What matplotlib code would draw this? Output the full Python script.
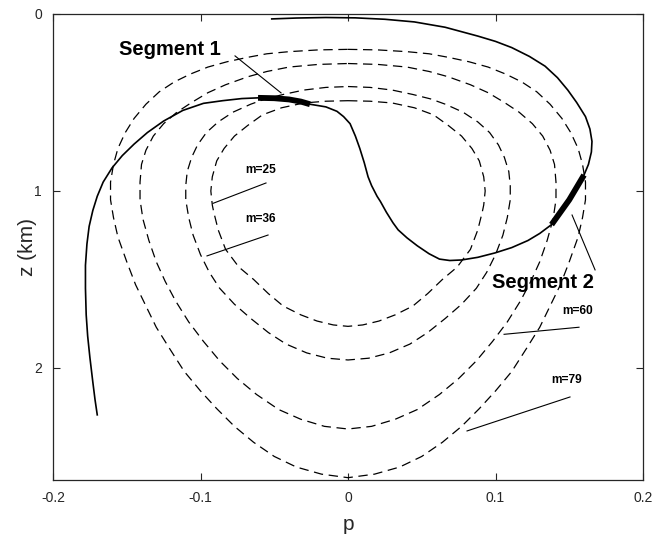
import matplotlib
matplotlib.use("Agg")
import matplotlib.pyplot as plt

plt.rcParams['font.family'] = ['Liberation Sans', 'DejaVu Sans']
plt.rcParams['axes.unicode_minus'] = False

# dashed contours, right half (p >= 0) read from top to bottom, mirrored for left half
c25_p = [0, 0.015, 0.03, 0.045, 0.058, 0.068, 0.077, 0.084, 0.089, 0.092, 0.093, 0.092, 0.091, 0.088,
         0.083, 0.074, 0.064, 0.054, 0.044, 0.032, 0.021, 0.01, 0]
c25_z = [0.49, 0.493, 0.503, 0.53, 0.57, 0.63, 0.69, 0.76, 0.83, 0.92, 1.0, 1.08, 1.12, 1.22,
         1.33, 1.43, 1.50, 1.58, 1.65, 1.70, 1.735, 1.757, 1.765]

c36_p = [0, 0.015, 0.03, 0.044, 0.056, 0.066, 0.078, 0.088, 0.096, 0.102, 0.106, 0.109, 0.110, 0.110,
         0.108, 0.105, 0.100, 0.094, 0.087, 0.077, 0.066, 0.054, 0.042, 0.028, 0.014, 0]
c36_z = [0.41, 0.415, 0.43, 0.455, 0.48, 0.51, 0.555, 0.61, 0.67, 0.74, 0.81, 0.89, 0.97, 1.05,
         1.15, 1.25, 1.36, 1.46, 1.55, 1.64, 1.72, 1.80, 1.865, 1.915, 1.945, 1.955]

c60_p = [0, 0.02, 0.04, 0.055, 0.068, 0.083, 0.095, 0.106, 0.116, 0.125, 0.132, 0.137, 0.140, 0.141,
         0.141, 0.139, 0.135, 0.130, 0.124, 0.117, 0.108, 0.098, 0.087, 0.075, 0.062, 0.047, 0.032,
         0.016, 0]
c60_z = [0.28, 0.285, 0.30, 0.325, 0.355, 0.40, 0.445, 0.50, 0.555, 0.62, 0.69, 0.77, 0.85, 0.95,
         1.05, 1.16, 1.28, 1.40, 1.51, 1.62, 1.74, 1.85, 1.96, 2.06, 2.15, 2.235, 2.29,
         2.33, 2.345]

c79_p = [0, 0.02, 0.04, 0.055, 0.068, 0.082, 0.095, 0.107, 0.118, 0.128, 0.137, 0.145, 0.151, 0.156,
         0.159, 0.161, 0.161, 0.159, 0.156, 0.150, 0.144, 0.137, 0.130, 0.121, 0.111, 0.100, 0.089,
         0.077, 0.064, 0.050, 0.035, 0.018, 0]
c79_z = [0.20, 0.203, 0.213, 0.225, 0.245, 0.27, 0.30, 0.34, 0.385, 0.44, 0.51, 0.59, 0.67, 0.76,
         0.85, 0.95, 1.05, 1.15, 1.26, 1.40, 1.53, 1.65, 1.77, 1.89, 2.02, 2.13, 2.23,
         2.33, 2.42, 2.50, 2.56, 2.60, 2.62]

# solid trajectory
traj_p = [-0.0517, -0.035, -0.015, 0.005, 0.025, 0.045, 0.0658, 0.088, 0.100, 0.111, 0.123, 0.1336,
          0.142, 0.149, 0.155, 0.161, 0.164, 0.1654, 0.165, 0.163, 0.160, 0.155, 0.150, 0.144, 0.138,
          0.130, 0.122, 0.111, 0.0997, 0.088, 0.077, 0.069, 0.062, 0.055, 0.047, 0.040, 0.034, 0.0305,
          0.026, 0.022, 0.0197, 0.016, 0.0136, 0.011, 0.008, 0.005, 0.0014, -0.003, -0.0075, -0.015,
          -0.0258, -0.032, -0.040, -0.050, -0.061, -0.072, -0.085, -0.098, -0.112, -0.125, -0.136,
          -0.145, -0.153, -0.160, -0.166, -0.170, -0.173, -0.1755, -0.177, -0.178, -0.178, -0.1775,
          -0.1765, -0.175, -0.173, -0.1715, -0.170]
traj_z = [0.028, 0.023, 0.020, 0.022, 0.030, 0.045, 0.075, 0.125, 0.155, 0.19, 0.24, 0.295,
          0.36, 0.43, 0.50, 0.58, 0.65, 0.72, 0.78, 0.85, 0.91, 0.98, 1.05, 1.12, 1.19,
          1.24, 1.28, 1.32, 1.35, 1.375, 1.39, 1.393, 1.385, 1.355, 1.31, 1.265, 1.22, 1.18,
          1.12, 1.06, 1.03, 0.97, 0.92, 0.84, 0.76, 0.69, 0.62, 0.58, 0.55, 0.525,
          0.51, 0.495, 0.483, 0.476, 0.474, 0.478, 0.49, 0.505, 0.545, 0.605, 0.67,
          0.735, 0.80, 0.87, 0.95, 1.03, 1.11, 1.2, 1.3, 1.42, 1.55, 1.70,
          1.82, 1.94, 2.08, 2.18, 2.265]

seg1_p = [-0.061, -0.050, -0.040, -0.032, -0.0258]
seg1_z = [0.474, 0.476, 0.483, 0.495, 0.51]
seg2_p = [0.160, 0.155, 0.150, 0.144, 0.138]
seg2_z = [0.91, 0.98, 1.05, 1.12, 1.19]

# labels: text, text position, leader line start, leader line end
contour_labels = ['m=25', 'm=36', 'm=60', 'm=79']
label_xy = [(-0.0698, 0.88), (-0.0698, 1.16), (0.145, 1.68), (0.138, 2.07)]
leader_a = [(-0.0915, 1.07), (-0.0956, 1.367), (0.1058, 1.81), (0.0807, 2.356)]
leader_b = [(-0.0556, 0.955), (-0.0542, 1.249), (0.1566, 1.77), (0.1505, 2.164)]

fig = plt.figure(figsize=(6.56, 5.39), dpi=100)
ax = fig.add_axes([0.0808, 0.1095, 0.8994, 0.8646])

for cp, cz in [(c25_p, c25_z), (c36_p, c36_z), (c60_p, c60_z), (c79_p, c79_z)]:
    xs = list(cp) + [-v for v in cp[::-1]]
    ys = list(cz) + list(cz[::-1])
    ax.plot(xs, ys, color='black', lw=0.9, dashes=(7.5, 4.5))

ax.plot(traj_p, traj_z, color='black', lw=1.2)
ax.plot(seg1_p, seg1_z, color='black', lw=4.2, solid_capstyle='butt')
ax.plot(seg2_p, seg2_z, color='black', lw=4.2, solid_capstyle='butt')

for t, (tx, tz), a, b in zip(contour_labels, label_xy, leader_a, leader_b):
    ax.text(tx, tz, t, fontsize=8.6, fontweight='bold', va='center', ha='left')
    ax.plot([a[0], b[0]], [a[1], b[1]], color='black', lw=0.8)

ax.text(-0.155, 0.203, 'Segment 1', fontsize=14.5, fontweight='bold', va='center', ha='left')
ax.plot([-0.0766, -0.0454], [0.237, 0.446], color='black', lw=0.8)
ax.text(0.0976, 1.52, 'Segment 2', fontsize=14.5, fontweight='bold', va='center', ha='left')
ax.plot([0.1519, 0.1675], [1.136, 1.446], color='black', lw=0.8)

ax.set_xlim(-0.2, 0.2)
ax.set_ylim(2.633, 0)
ax.set_xticks([-0.2, -0.1, 0, 0.1, 0.2])
ax.set_xticklabels(['-0.2', '-0.1', '0', '0.1', '0.2'])
ax.set_yticks([0, 1, 2])
ax.set_yticklabels(['0', '1', '2'])
ax.tick_params(direction='in', top=True, right=True, length=5, width=0.8,
               labelsize=10, labelcolor='#262626', color='#262626', pad=8)
for s in ax.spines.values():
    s.set_color('#262626')
    s.set_linewidth(0.9)

ax.set_xlabel('p', fontsize=15, color='#262626', labelpad=7)
ax.set_ylabel('z (km)', fontsize=15, color='#262626', labelpad=-2)

fig.savefig('out.png', dpi=100)
